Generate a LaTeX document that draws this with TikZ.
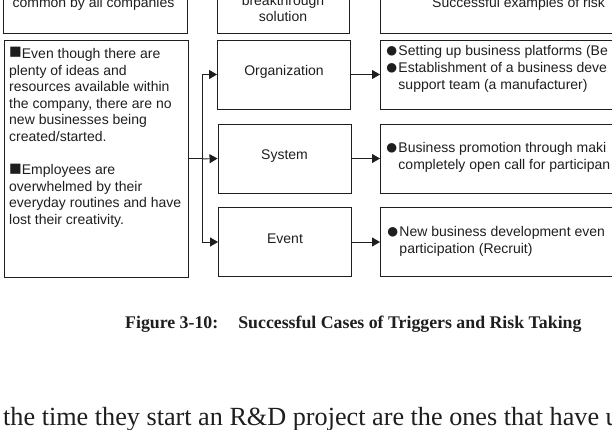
\documentclass[tikz,border=0pt]{standalone}
\usepackage{fontspec}
\setmainfont{Liberation Serif}
\setsansfont{Liberation Sans}
\usetikzlibrary{arrows.meta,positioning}
\definecolor{inkgray}{RGB}{30,30,30}
\newcommand{\bulletdot}{\raisebox{-1.6pt}{\fontsize{22}{0}\selectfont ●}}
\newcommand{\bulletsq}{\raisebox{-0.4pt}{\fontsize{21}{0}\selectfont ■}}

\begin{document}
\begin{tikzpicture}[x=1pt, y=-1pt,
      font=\sffamily\fontsize{14}{16.6}\selectfont, inkgray,
      box/.style={draw=inkgray, line width=0.9pt, inner sep=0pt},
      midbox/.style={box, minimum width=133, minimum height=69,
        text height=8, text depth=6},
      casebox/.style={box, minimum width=260, minimum height=69, anchor=west},
      txt/.style={inner sep=0pt, align=left, anchor=base west},
      casetxt/.style={txt, font=\sffamily\fontsize{14}{17.2}\selectfont},
      arr/.style={-{Triangle[length=8pt, width=9pt]}, line width=0.9pt, draw=inkgray}
    ]
    \clip (0,0) rectangle (612,430);

    % top row, cut off by the page edge
    \node[box, minimum width=184, minimum height=60, anchor=south west] (issuetop) at (3,34) {};
    \node[box, minimum width=132, minimum height=60, anchor=south west] (solutop) at (217,34) {};
    \node[box, minimum width=260, minimum height=60, anchor=south west] (casetop) at (380,34) {};
    \node[txt, anchor=base] (issuetoptxt) at (93.5,7.5) {common by all companies};
    \node[txt, anchor=base, align=center] (solutoptxt) at (283,22) {breakthrough\\solution};
    \node[txt] (casetoptxt) at (432,7.5) {Successful examples of risk};

    % base anchor of a multi-line node = its last line
    \node[box, minimum width=184, minimum height=237, anchor=north west] (issue) at (4,40) {};
    \node[txt] (issuetxt) at (9,224.5) {\bulletsq Even though there are\\plenty of ideas and\\resources available within\\the company, there are no\\new businesses being\\created/started.\\[16.6pt]\bulletsq Employees are\\overwhelmed by their\\everyday routines and have\\lost their creativity.};

    \node[midbox] (org) at (284,74.5) {Organization};
    \node[midbox] (sys) at (284.5,158.5) {System};
    \node[midbox] (evt) at (285,242) {Event};

    \node[casebox] (orgcase) at (380,74.5) {};
    \node[casebox] (syscase) at (380,158.5) {};
    \node[casebox] (evtcase) at (380,242) {};
    \node[casetxt] (orgcasetxt) at (385,90) {\bulletdot Setting up business platforms (Be\\\bulletdot Establishment of a business deve\\\phantom{\bulletdot}support team (a manufacturer)};
    \node[casetxt] (syscasetxt) at (385,169.7) {\bulletdot Business promotion through maki\\\phantom{\bulletdot}completely open call for participan};
    \node[casetxt] (evtcasetxt) at (386,253.7) {\bulletdot New business development even\\\phantom{\bulletdot}participation (Recruit)};

    % branching arrows
    \coordinate (fork) at ([xshift=13.5pt]issue.east);
    \draw[arr, -] (issue.east) -- (fork);
    \draw[arr] (fork) |- (org.west);
    \draw[arr] (fork) -- (sys.west);
    \draw[arr] (fork) |- (evt.west);
    \draw[arr] (org) -- (orgcase);
    \draw[arr] (sys) -- (syscase);
    \draw[arr] (evt) -- (evtcase);

    \node[inner sep=0pt, anchor=base west, font=\rmfamily\bfseries\fontsize{17.8}{20}\selectfont]
      (caption) at (125,328.5) {Figure 3-10:\hspace{20pt}Successful Cases of Triggers and Risk Taking};
    \node[inner sep=0pt, anchor=base west, font=\rmfamily\fontsize{26.2}{30}\selectfont]
      (bodytext) at (3,425) {the time they start an R\&D project are the ones that have us};
  \end{tikzpicture}
\end{document}
